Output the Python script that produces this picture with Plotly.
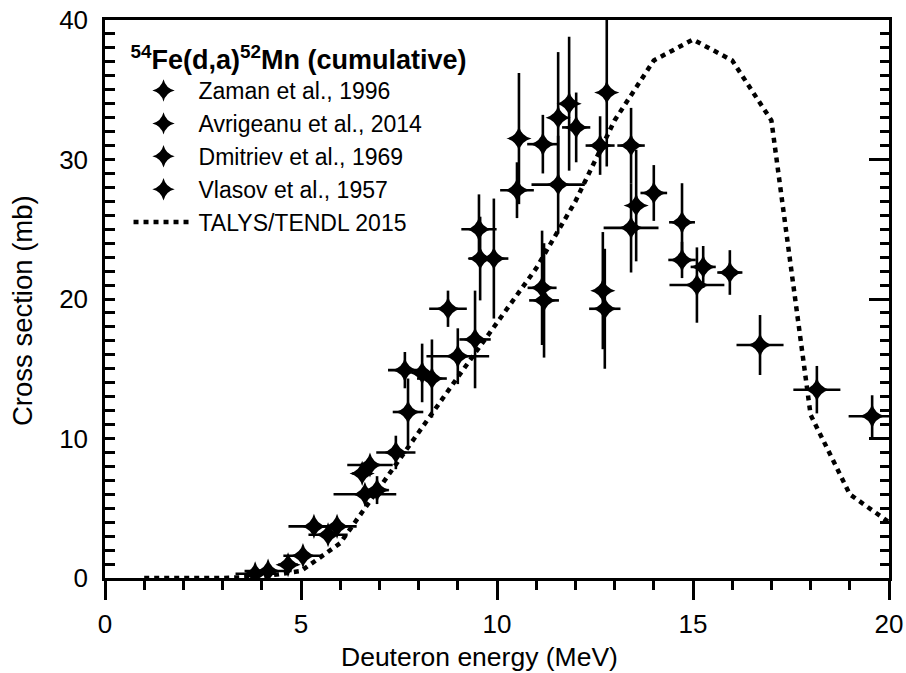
import plotly.graph_objects as go

# ---- data ----
zaman_E   = [3.83, 4.16, 5.05, 5.33, 5.92, 5.69, 6.76, 6.63, 7.42, 9.00, 11.56, 13.42, 15.10, 16.71, 18.16, 19.57]
zaman_S   = [0.3, 0.5, 1.6, 3.7, 3.7, 3.1, 8.1, 6.0, 9.0, 15.9, 28.2, 25.1, 21.0, 16.7, 13.5, 11.6]
zaman_dE  = [0.5, 0.6, 0.5, 0.65, 0.5, 0.5, 0.58, 0.8, 0.5, 0.8, 0.68, 0.7, 0.7, 0.6, 0.6, 0.6]
zaman_dS  = [0.1, 0.2, 0.3, 0.3, 0.3, 0.2, 0.4, 0.4, 1.2, 2.0, 3.5, 3.2, 2.7, 2.15, 1.7, 1.5]

avr_E  = [7.73, 7.65, 8.34, 8.75, 9.44, 9.92, 10.51, 11.17, 12.02, 11.15, 11.20, 12.63, 12.75, 13.42, 14.00, 14.72, 14.72, 15.26, 15.94]
avr_S  = [11.9, 14.9, 14.3, 19.3, 17.1, 22.9, 27.8, 31.1, 32.3, 20.8, 19.9, 31.0, 19.3, 31.0, 27.6, 25.5, 22.8, 22.3, 21.9]
avr_dE = [0.39, 0.43, 0.38, 0.48, 0.4, 0.37, 0.43, 0.4, 0.36, 0.37, 0.38, 0.37, 0.4, 0.35, 0.34, 0.33, 0.35, 0.32, 0.32]
avr_dS = [2.4, 1.3, 2.8, 1.3, 3.5, 4.3, 2.0, 2.1, 2.5, 4.1, 4.1, 2.1, 4.3, 2.7, 2.0, 2.8, 1.3, 1.5, 1.6]

dmi_E  = [10.56, 11.56, 11.84, 12.80, 12.70, 13.55]
dmi_S  = [31.5, 33.0, 34.0, 34.8, 20.6, 26.7]
dmi_dE = [0, 0, 0, 0, 0, 0]
dmi_dS = [4.7, 4.7, 4.8, 5.3, 4.2, 4.0]

vla_E  = [4.67, 6.56, 6.94, 8.09, 9.57, 9.54]
vla_S  = [0.95, 7.5, 6.3, 14.7, 22.9, 25.0]
vla_dE = [0.25, 0.25, 0.3, 0.2, 0.3, 0.45]
vla_dS = [0.6, 0.6, 1.0, 2.1, 3.0, 2.5]

talys_E = [1, 2, 3, 4, 5, 6, 7, 8, 9, 10, 11, 12, 13, 14, 15, 16, 17, 18, 19, 20]
talys_S = [0, 0, 0, 0.1, 0.5, 2.5, 6.5, 10.5, 14.4, 18.3, 22.2, 27.0, 32.8, 37.1, 38.6, 37.1, 32.8, 11.7, 6.0, 4.0]

x_title = "Deuteron energy (MeV)"
y_title = "Cross section (mb)"
legend_title = "<b><sup>54</sup>Fe(d,a)<sup>52</sup>Mn (cumulative)</b>"

series = [
    ("Zaman et al., 1996", zaman_E, zaman_S, zaman_dE, zaman_dS),
    ("Avrigeanu et al., 2014", avr_E, avr_S, avr_dE, avr_dS),
    ("Dmitriev et al., 1969", dmi_E, dmi_S, dmi_dE, dmi_dS),
    ("Vlasov et al., 1957", vla_E, vla_S, vla_dE, vla_dS),
]

FONT = "Liberation Sans, Arial, sans-serif"
fig = go.Figure()

fig.add_trace(go.Scatter(
    x=talys_E, y=talys_S, mode="lines", name="TALYS/TENDL 2015",
    line=dict(color="black", width=4.5, dash="5px,5px"),
    legendrank=5, cliponaxis=True,
))

for i, (name, E, S, dE, dS) in enumerate(series):
    fig.add_trace(go.Scatter(
        x=E, y=S, mode="markers", name=name, legendrank=i + 1,
        marker=dict(symbol="star-diamond", size=18, color="black",
                    line=dict(width=0)),
        error_x=dict(type="data", array=dE, visible=True, color="black",
                     thickness=2.6, width=0),
        error_y=dict(type="data", array=dS, visible=True, color="black",
                     thickness=2.6, width=0),
    ))

# invisible trace to carry the right-hand axis
fig.add_trace(go.Scatter(x=[0], y=[0], yaxis="y2", mode="markers",
                         marker=dict(opacity=0), showlegend=False,
                         hoverinfo="skip"))

fig.update_layout(
    width=906, height=673,
    margin=dict(l=105, r=17, t=20, b=95, autoexpand=False),
    paper_bgcolor="white", plot_bgcolor="white",
    font=dict(family=FONT, size=26, color="black"),
    showlegend=True,
    legend=dict(
        x=0.03, y=0.975, xanchor="left", yanchor="top",
        bgcolor="rgba(0,0,0,0)", borderwidth=0,
        font=dict(family=FONT, size=23, color="black"),
        title=dict(text=legend_title,
                   font=dict(family=FONT, size=27, color="black")),
        itemwidth=60, tracegroupgap=0,
    ),
    xaxis=dict(
        range=[0, 20], showgrid=False, zeroline=False, automargin=False,
        showline=True, linecolor="black", linewidth=2.5, mirror=True,
        ticks="outside", ticklen=19, tickwidth=2.5, tickcolor="black",
        tickvals=[0, 5, 10, 15, 20], ticklabelstandoff=2,
        minor=dict(ticks="outside", ticklen=9, tickwidth=2.5, tickcolor="black", dtick=1, showgrid=False),
        tickfont=dict(family=FONT, size=26),
    ),
    yaxis=dict(
        range=[0, 40], showgrid=False, zeroline=False, automargin=False,
        showline=True, linecolor="black", linewidth=2.5,
        ticks="inside", ticklen=10, tickwidth=2.5, tickcolor="black",
        tickvals=[0, 10, 20, 30, 40], ticklabelstandoff=9,
        minor=dict(ticks="inside", ticklen=10, tickwidth=2.5, tickcolor="black", dtick=1, showgrid=False),
        tickfont=dict(family=FONT, size=26),
    ),
    yaxis2=dict(
        range=[0, 40], overlaying="y", side="right", showgrid=False, zeroline=False,
        showline=True, linecolor="black", linewidth=2.5, automargin=False,
        ticks="inside", ticklen=20, tickwidth=2.5, tickcolor="black",
        tickvals=[0, 10, 20, 30, 40], showticklabels=False,
        minor=dict(ticks="inside", ticklen=9, tickwidth=2.5, tickcolor="black", dtick=1, showgrid=False),
    ),
    annotations=[
        dict(text=x_title, xref="paper", yref="paper", x=0.478, y=-0.1703,
             xanchor="center", yanchor="bottom", showarrow=False, borderpad=0,
             font=dict(family=FONT, size=26.5, color="black")),
        dict(text=y_title, xref="paper", yref="paper", x=-0.106, y=0.48,
             xanchor="center", yanchor="middle", showarrow=False, textangle=-90,
             font=dict(family=FONT, size=27.5, color="black")),
    ],
)

fig.write_html("out.html")
